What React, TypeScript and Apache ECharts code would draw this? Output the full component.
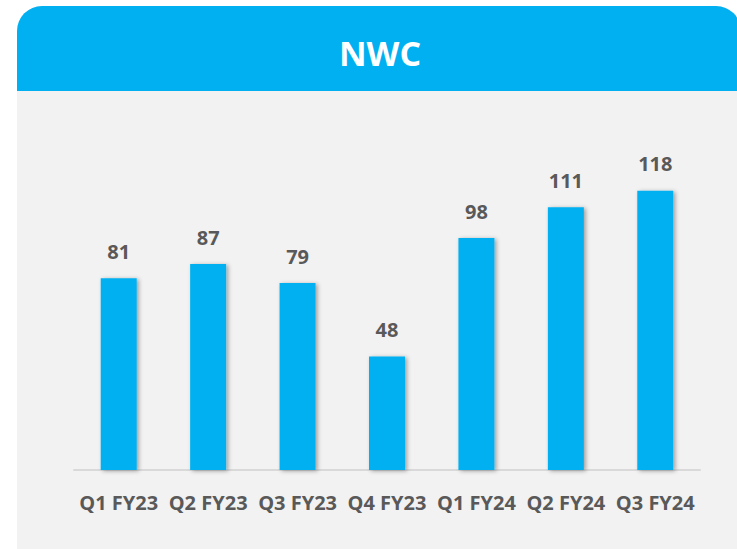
import React, { useEffect, useRef } from "react";
import * as echarts from "echarts";

const categories = ["Q1 FY23", "Q2 FY23", "Q3 FY23", "Q4 FY23", "Q1 FY24", "Q2 FY24", "Q3 FY24"];
const nwcValues = [81, 87, 79, 48, 98, 111, 118];
const chartTitle = "NWC";

export default function App() {
  const ref = useRef<HTMLDivElement>(null);
  useEffect(() => {
    if (!ref.current) return;
    const chart = echarts.init(ref.current, null, { renderer: "svg" });
    chart.setOption({
      animation: false,
      backgroundColor: "#ffffff",
      graphic: [
        {
          type: "rect",
          z: -10,
          silent: true,
          shape: { x: 17, y: 6, width: 724, height: 560, r: [25, 25, 0, 0] },
          style: { fill: "#F2F2F2" },
        },
        {
          type: "rect",
          z: -9,
          silent: true,
          shape: { x: 17, y: 6, width: 724, height: 85, r: [25, 25, 0, 0] },
          style: { fill: "#00B0F0" },
        },
        {
          type: "text",
          z: -8,
          silent: true,
          x: 380,
          y: 53,
          style: {
            text: chartTitle,
            fill: "#ffffff",
            font: "bold 34px 'Open Sans'",
            align: "center",
            verticalAlign: "middle",
          },
        },
      ],
      grid: { left: 74, right: 37, top: 115, bottom: 79 },
      xAxis: {
        type: "category",
        data: categories,
        axisLine: { lineStyle: { color: "#D9D9D9", width: 2 } },
        axisTick: { show: false },
        axisLabel: {
          color: "#595959",
          fontFamily: "Open Sans",
          fontWeight: "bold",
          fontSize: 20,
          margin: 22,
          interval: 0,
        },
      },
      yAxis: {
        type: "value",
        min: 0,
        max: 150,
        show: false,
        splitLine: { show: false },
      },
      series: [
        {
          type: "bar",
          data: nwcValues,
          barWidth: 36,
          itemStyle: {
            color: "#00B0F0",
            shadowColor: "rgba(0,0,0,0.35)",
            shadowBlur: 4,
            shadowOffsetX: 2,
            shadowOffsetY: 1,
          },
          label: {
            show: true,
            position: "top",
            distance: 17,
            color: "#595959",
            fontFamily: "Open Sans",
            fontWeight: "bold",
            fontSize: 20,
          },
        },
      ],
    });
    return () => chart.dispose();
  }, []);
  return (
    <div
      ref={ref}
      style={{ position: "fixed", left: 0, top: 0, width: 737, height: 549 }}
    />
  );
}
